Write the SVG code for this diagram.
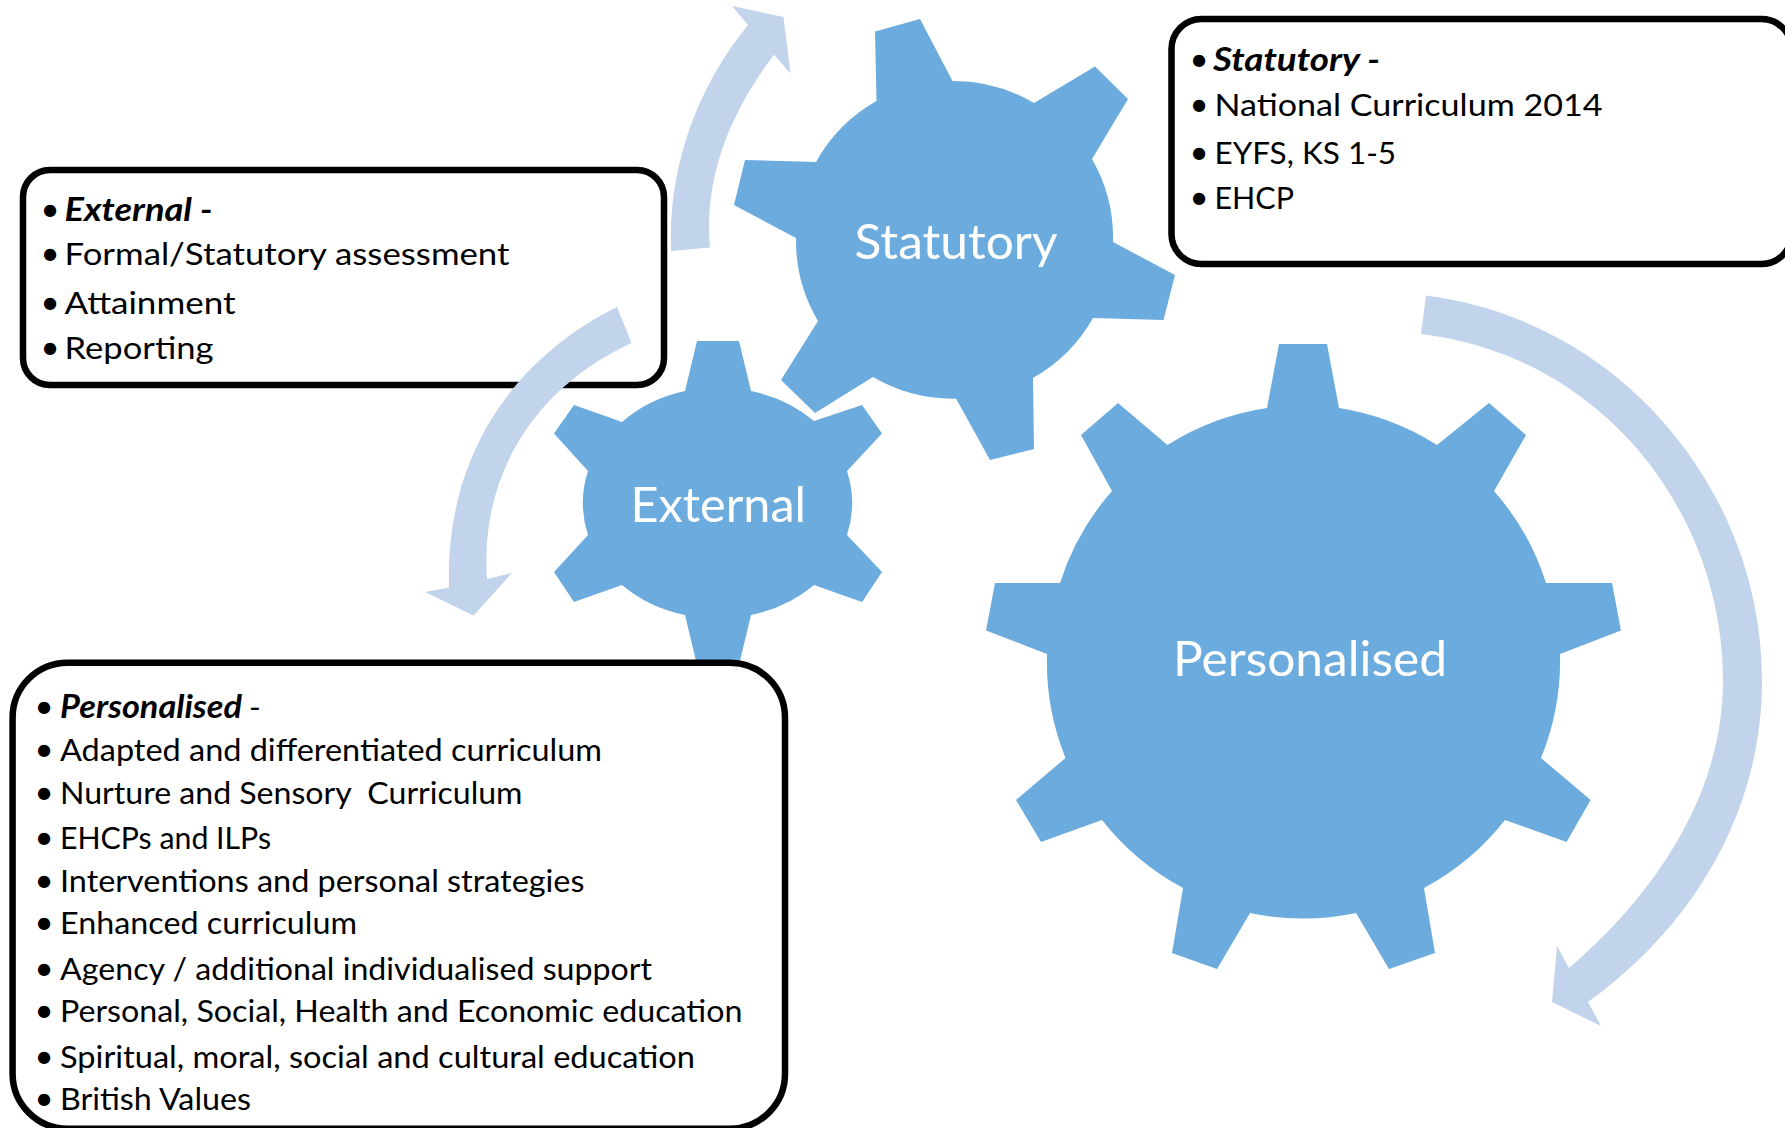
<svg xmlns="http://www.w3.org/2000/svg" width="1785" height="1128" viewBox="0 0 1785 1128">
<style>
.gear{fill:#6CABDD}
.arrow{fill:#C2D4EC}
.box{fill:#fff;stroke:#000;stroke-width:6.5}
text{font-family:"Lato","Open Sans","Liberation Sans",sans-serif;white-space:pre}
.t{font-size:31.5px;fill:#000}
.b{font-size:33px;fill:#000;text-anchor:middle}
.h{font-weight:700;font-style:italic}
.l{font-size:48px;fill:#fff}
</style>
<rect width="1785" height="1128" fill="#fff"/>
<g id="gear-statutory">
<path class="gear" d="M875 31.6L920 19L952.5 81A158 158 0 0 1 1034 103L1095 66.5L1128 99L1092 159A158 158 0 0 1 1113 242L1175 275L1163.5 320L1093 318A158 158 0 0 1 1033 378L1034 449L990 460L956 398.6A158 158 0 0 1 873 377L815 413L781 380L818 321A158 158 0 0 1 796 238L734 205L745 160L816 162A158 158 0 0 1 876.5 101Z"/>
<text class="l" x="854.5" y="259" textLength="203" lengthAdjust="spacingAndGlyphs">Statutory</text>
</g>
<g id="gear-external">
<path class="gear" d="M697 341L739 341L751 391A134 117 0 0 1 814 421L862 405L882 433.5L847 471A134 117 0 0 1 847 535L882 572L862 602L814 585A134 117 0 0 1 751 615L739 665L697 665L685 615A134 117 0 0 1 622 585L574 602L554 572L588 535A134 117 0 0 1 588 471L554 433.5L574 405L622 422A134 117 0 0 1 685 391Z"/>
<text class="l" x="630.5" y="522" textLength="175.5" lengthAdjust="spacingAndGlyphs">External</text>
</g>
<g id="gear-personalised">
<path class="gear" d="M1279 344L1327 344L1339 408A257 257 0 0 1 1437 445L1489 403L1526 435L1494 491A257 257 0 0 1 1546 583L1612 583L1621 630.5L1560 654A257 257 0 0 1 1541 758L1590.6 800L1566.6 842L1505 820A257 257 0 0 1 1424 888L1435 953L1389 969L1356 913A257 257 0 0 1 1250 913L1217 969L1172 953L1183 888A257 257 0 0 1 1102 820L1041 842L1016 800L1065.5 758A257 257 0 0 1 1047 654L986 630.5L995 583L1060 583A257 257 0 0 1 1112 491L1081 435L1118 403L1167.5 445A257 257 0 0 1 1267 408Z"/>
<text class="l" x="1173" y="675.5" textLength="274" lengthAdjust="spacingAndGlyphs">Personalised</text>
</g>
<g id="box-external">
<rect class="box" x="23" y="170" width="641" height="215" rx="27" ry="27"/>
<text class="b" x="50" y="221">•</text><text class="t h" x="64.5" y="221" textLength="148" lengthAdjust="spacingAndGlyphs">External -</text>
<text class="b" x="50" y="265">•</text><text class="t" x="64.5" y="265" textLength="445" lengthAdjust="spacingAndGlyphs">Formal/Statutory assessment</text>
<text class="b" x="50" y="314">•</text><text class="t" x="64.5" y="314" textLength="171" lengthAdjust="spacingAndGlyphs">Attainment</text>
<text class="b" x="50" y="359">•</text><text class="t" x="64.5" y="359" textLength="149" lengthAdjust="spacingAndGlyphs">Reporting</text>
</g>
<g id="box-statutory">
<rect class="box" x="1171.5" y="19" width="620" height="245" rx="30" ry="30"/>
<text class="b" x="1199" y="71">•</text><text class="t h" x="1213" y="71" textLength="167" lengthAdjust="spacingAndGlyphs">Statutory -</text>
<text class="b" x="1199" y="116">•</text><text class="t" x="1214.5" y="116" textLength="388" lengthAdjust="spacingAndGlyphs">National Curriculum 2014</text>
<text class="b" x="1199" y="163.5">•</text><text class="t" x="1214.5" y="163.5" textLength="181.6" lengthAdjust="spacingAndGlyphs">EYFS, KS 1-5</text>
<text class="b" x="1199" y="208.6">•</text><text class="t" x="1214.5" y="208.6" textLength="79.4" lengthAdjust="spacingAndGlyphs">EHCP</text>
</g>
<g id="box-personalised">
<rect class="box" x="12.6" y="662.7" width="772.4" height="466" rx="55" ry="55"/>
<text class="b" x="44" y="718">•</text><text class="t h" x="60" y="718" textLength="182" lengthAdjust="spacingAndGlyphs">Personalised</text><text class="t" x="249" y="718">-</text>
<text class="b" x="44" y="761">•</text><text class="t" x="60" y="761" textLength="542" lengthAdjust="spacingAndGlyphs">Adapted and differentiated curriculum</text>
<text class="b" x="44" y="804">•</text><text class="t" x="60" y="804" textLength="462.5" lengthAdjust="spacingAndGlyphs">Nurture and Sensory  Curriculum</text>
<text class="b" x="44" y="849">•</text><text class="t" x="60" y="849" textLength="211" lengthAdjust="spacingAndGlyphs">EHCPs and ILPs</text>
<text class="b" x="44" y="892">•</text><text class="t" x="60" y="892" textLength="524.5" lengthAdjust="spacingAndGlyphs">Interventions and personal strategies</text>
<text class="b" x="44" y="934">•</text><text class="t" x="60" y="934" textLength="297" lengthAdjust="spacingAndGlyphs">Enhanced curriculum</text>
<text class="b" x="44" y="980">•</text><text class="t" x="60" y="980" textLength="592" lengthAdjust="spacingAndGlyphs">Agency / additional individualised support</text>
<text class="b" x="44" y="1022">•</text><text class="t" x="60" y="1022" textLength="682.4" lengthAdjust="spacingAndGlyphs">Personal, Social, Health and Economic education</text>
<text class="b" x="44" y="1068">•</text><text class="t" x="60" y="1068" textLength="635" lengthAdjust="spacingAndGlyphs">Spiritual, moral, social and cultural education</text>
<text class="b" x="44" y="1110">•</text><text class="t" x="60" y="1110" textLength="191" lengthAdjust="spacingAndGlyphs">British Values</text>
</g>
<g id="connectors">
<path class="arrow" d="M671 251C668 170 695 90 748 25L732 6L783.5 17L790.5 73.6L774 54.7C728 115 704 180 710 247.5Z"/>
<path class="arrow" d="M617 307C510 360 445 460 449 587.5L425 592L473.6 615.5L512 573L487 579C480 480 530 390 631.5 343Z"/>
<path class="arrow" d="M1426 295.5C1620 320 1762 490 1762 681C1762 810 1695 925 1588 1002L1601 1026L1552 1002L1557 946L1569 968C1660 890 1723 790 1723 681C1723 510 1600 355 1421 334Z"/>
</g>
</svg>
